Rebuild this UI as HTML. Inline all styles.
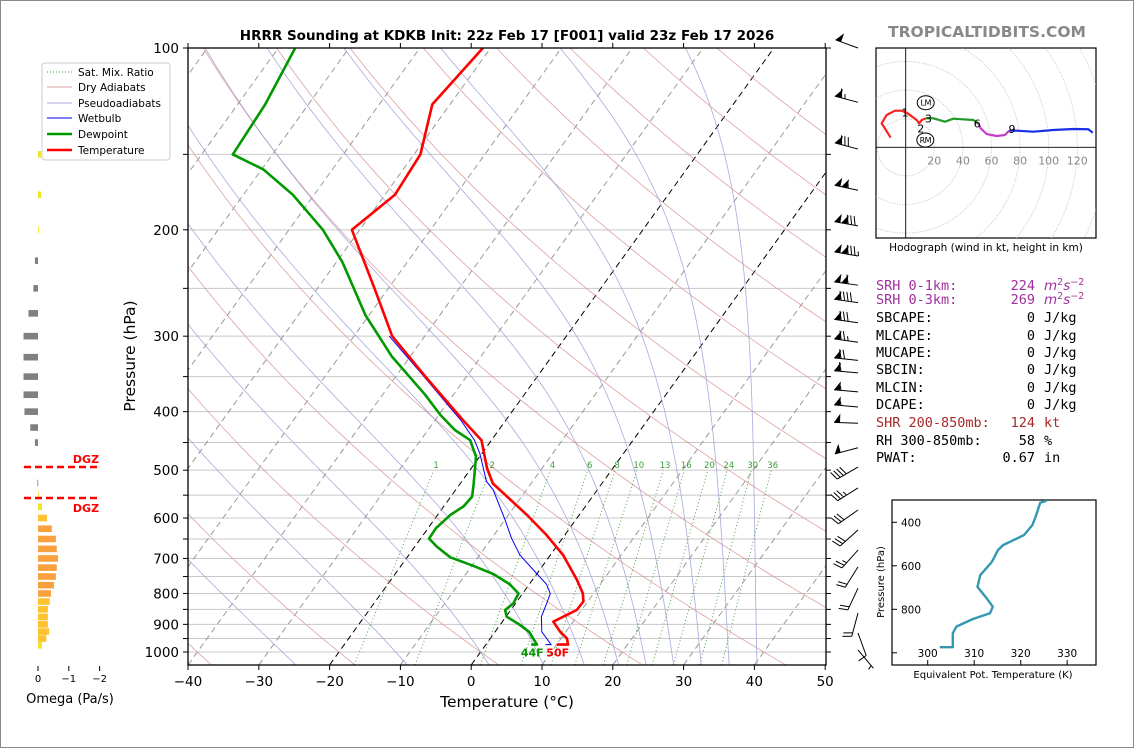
<!DOCTYPE html>
<html><head><meta charset="utf-8"><style>
html,body{margin:0;padding:0;background:#fff;overflow:hidden;}
svg{display:block;font-family:"DejaVu Sans","Liberation Sans",sans-serif;}
</style></head><body>
<svg id="fig" width="1134" height="748" viewBox="0 0 1134 748" xmlns="http://www.w3.org/2000/svg">
<rect x="0.5" y="0.5" width="1133" height="747" fill="#fff" stroke="#888"/>
<defs><clipPath id="mainclip"><rect x="188" y="48" width="638" height="617"/></clipPath>
<clipPath id="hodoclip"><rect x="876" y="48" width="220" height="190"/></clipPath>
<clipPath id="theclip"><rect x="892" y="500" width="204" height="165"/></clipPath></defs>
<text x="507" y="40" text-anchor="middle" font-size="13.5" font-weight="bold">HRRR Sounding at KDKB Init: 22z Feb 17 [F001] valid 23z Feb 17 2026</text>
<text x="987" y="37" text-anchor="middle" font-size="15.5" font-weight="bold" fill="#888">TROPICALTIDBITS.COM</text>
<g id="bg" clip-path="url(#mainclip)"></g>
<g id="prof" clip-path="url(#mainclip)"></g>
<g id="axes"></g>
<g id="omega"></g>
<g id="barbs"></g>
<g id="hodo"></g>
<g id="thetae"></g>
<g id="legend">
<rect x="42" y="63" width="128" height="97" rx="3" fill="#fff" stroke="#ccc"/>
<line x1="47" y1="72" x2="72" y2="72" stroke="#3a9a3a" stroke-dasharray="1,2"/>
<text x="78" y="76" font-size="10.5">Sat. Mix. Ratio</text>
<line x1="47" y1="87" x2="72" y2="87" stroke="#dca0a0"/>
<text x="78" y="91" font-size="10.5">Dry Adiabats</text>
<line x1="47" y1="103" x2="72" y2="103" stroke="#a8a8dc"/>
<text x="78" y="107" font-size="10.5">Pseudoadiabats</text>
<line x1="47" y1="118" x2="72" y2="118" stroke="#0000ee"/>
<text x="78" y="122" font-size="10.5">Wetbulb</text>
<line x1="47" y1="134" x2="72" y2="134" stroke="#009900" stroke-width="2.5"/>
<text x="78" y="138" font-size="10.5">Dewpoint</text>
<line x1="47" y1="150" x2="72" y2="150" stroke="#ff0000" stroke-width="2.5"/>
<text x="78" y="154" font-size="10.5">Temperature</text>
</g>
<g id="stats" font-family="'DejaVu Sans Mono','Liberation Mono',monospace" font-size="13.5"></g>
</svg>
<script>
// ===== DATA =====
const tempP = [972,972,949,926,891,874,852,825,800,760,691,640,593,526,496,446,413,399,350,300,251,200,175,150,124,100];
const tempT = [10.0,11.6,10.8,9.2,7.2,8.1,9.3,9.4,8.5,6.3,1.8,-2.6,-7.4,-15.4,-17.8,-21.4,-26.1,-28.1,-35.8,-44.6,-51.8,-61.1,-58.6,-59.1,-62.5,-61.1];
const dewP = [972,972,943,926,902,874,852,831,800,772,743,720,697,669,649,624,593,574,553,526,475,446,429,405,375,324,277,226,200,175,159,150,124,100];
const dewT = [6.4,7.2,5.7,4.8,2.8,0.1,-0.8,-0.3,-0.6,-2.8,-6.1,-9.8,-13.9,-16.9,-18.8,-18.9,-18.2,-17.2,-17.0,-18.1,-20.5,-23.0,-26.2,-29.8,-34.0,-42.6,-50.5,-59.2,-65.2,-73.0,-79.7,-85.6,-86.1,-87.6];
const wbP = [972,972,926,874,831,800,772,741,691,648,604,539,522,469,446,413,399,350,300];
const wbT = [8.4,9.2,6.6,5.0,4.4,3.9,2.4,-0.1,-4.3,-7.2,-10.0,-14.7,-16.5,-20.3,-22.4,-26.4,-28.4,-36.0,-45.0];
const pressureTicks = [100,200,300,400,500,600,700,800,900,1000];
const isobars = [100,150,200,250,300,350,400,450,500,550,600,650,700,750,800,850,900,950,1000];
const tempTicks = [-40,-30,-20,-10,0,10,20,30,40,50];
const mixRatios = [1,2,4,6,8,10,13,16,20,24,30,36];
const omegaP = [150,175,200,225,250,275,300,325,350,375,400,425,450,525,550,575,600,625,650,675,700,725,750,775,800,825,850,875,900,925,950,975];
const omegaV = [-0.1,-0.1,-0.03,0.1,0.15,0.31,0.47,0.47,0.47,0.47,0.44,0.25,0.1,0.02,-0.02,-0.13,-0.29,-0.45,-0.58,-0.61,-0.65,-0.61,-0.58,-0.52,-0.42,-0.38,-0.32,-0.32,-0.32,-0.36,-0.27,-0.13];
const omegaTicks = [0,-1,-2];
const dgzP = [494,556];
const barbP = [100,123,147,172,197,221,247,264,285,307,329,345,371,393,418,459,494,535,582,628,678,723,784,862,930,992];
const barbSpd = [50,65,80,105,130,135,110,90,80,75,70,60,55,55,50,50,40,35,30,30,25,20,20,20,10,5];
const barbDir = [290,285,285,282,280,280,278,278,278,278,276,275,275,275,272,255,240,238,235,228,222,212,205,195,160,140];
const hodoSeg = [
 {c:'#ff2020',u:[-10.5,-16.8,-13.3,-7.5,-2.8,0.7,7.7,9.3,11.2,14.2],v:[6.7,16.8,22.6,25.6,25.6,24.2,19.1,16.8,19.1,20.3]},
 {c:'#22992a',u:[14.2,19.3,27.5,33.3,47.3,50.8],v:[20.3,20.3,17.9,20.0,19.1,16.8]},
 {c:'#c040c8',u:[50.8,52.4,56.6,63.6,69.4,72.4],v:[16.8,13.3,9.3,7.9,8.6,11.6]},
 {c:'#1a2ee8',u:[72.4,77.6,89.2,103.2,117.2,127.7,130.8],v:[11.6,11.6,10.9,12.1,12.8,12.6,10.2]}];
const hodoLabelTxt = ['1','2','3','6','9'];
const hodoLabelU = [-0.5,10.5,15.9,50,74.3];
const hodoLabelV = [24.2,13.3,20.3,16.8,12.9];
const hodoRings = [20,40,60,80,100,120,140,160];
const thetaK = [302.6,305.4,305.4,306.2,309.8,313.4,314.0,312.7,310.7,311.3,313.8,315.1,316.2,320.7,322.5,323.2,324.2,325.6];
const thetaP = [974,974,910,879,844,818,788,750,697,643,582,528,505,459,413,375,310,300];
const thetaXTicks = [300,310,320,330];
const thetaYTicks = [400,600,800];

// ===== HELPERS =====
const NS='http://www.w3.org/2000/svg';
function mk(parent,tag,attrs,txt){const e=document.createElementNS(NS,tag);for(const k in attrs)e.setAttribute(k,attrs[k]);if(txt!==undefined)e.textContent=txt;parent.appendChild(e);return e;}
const yP=p=>652+604*Math.log10(p/1000);
const xT=(T,p)=>188+(T+40)*7.08+0.72*(665-yP(p));
const minus=s=>String(s).replace('-','\u2212');
function pathFrom(Ts,Ps){return Ts.map((t,i)=>(i?'L':'M')+xT(t,Ps[i]).toFixed(1)+','+yP(Ps[i]).toFixed(1)).join('');}
const bg=document.getElementById('bg');
const pressGrid=[];for(let p=1050;p>=100;p-=10)pressGrid.push(p);

// isobars
isobars.forEach(p=>{const l=mk(bg,'line',{x1:188,x2:826,y1:yP(p),y2:yP(p),stroke:'#c8c8c8','stroke-width':1});

});
// isotherms
for(let T=-140;T<=50;T+=10){const blk=(T===0||T===-20);
const l=mk(bg,'line',{x1:xT(T,1050),y1:yP(1050),x2:xT(T,100),y2:yP(100),stroke:blk?'#000':'#999','stroke-width':1,'stroke-dasharray':'6,4'});

}
// dry adiabats
for(let th=-40;th<=200;th+=20){const ps=[],ts=[];pressGrid.forEach(p=>{ps.push(p);ts.push((th+273.15)*Math.pow(p/1000,0.2857)-273.15);});
const l=mk(bg,'path',{d:pathFrom(ts,ps),fill:'none',stroke:'#d89090','stroke-width':0.8,opacity:0.85});

}
// moist adiabats
function es(Tc){return 6.112*Math.exp(17.67*Tc/(Tc+243.5));}
[-28,-12,0,8,14,19,23,27,31,35,39].forEach(t0=>{
 let T=t0+273.15;const ps=[1000],ts=[t0];
 const step=(p,T)=>{const e=es(T-273.15),rs=0.622*e/(p-e);return (287*T+2.5e6*rs)/(1004+2.5e6*2.5e6*rs*0.622/(287*T*T))/p;};
 let p=1000;while(p>100){const dp=-5;T+=step(p,T)*dp;p+=dp;ps.push(p);ts.push(T-273.15);}
 let T2=t0+273.15;p=1000;const ps2=[],ts2=[];while(p<1050){const dp=5;T2+=step(p,T2)*dp;p+=dp;ps2.push(p);ts2.push(T2-273.15);}
 const l=mk(bg,'path',{d:pathFrom(ts2.reverse().concat(ts),ps2.reverse().concat(ps)),fill:'none',stroke:'#9a9ad8','stroke-width':0.8,opacity:0.85});
 
 });
// mixing ratio lines
mixRatios.forEach(w=>{const td=p=>{const e=p*w/(622+w),a=Math.log(e/6.112);return 243.5*a/(17.67-a);};
 const ps=[1050,500],ts=ps.map(td);
 const l=mk(bg,'path',{d:pathFrom(ts,ps),fill:'none',stroke:'#3a9a3a','stroke-width':0.9,'stroke-dasharray':'1,2.5'});
 
 
 const t=mk(bg,'text',{x:xT(td(490),490),y:yP(490)+3,'text-anchor':'middle','font-size':8.5,fill:'#3a9a3a'},String(w));
 
 });

// profiles
const prof=document.getElementById('prof');
let e;
e=mk(prof,'path',{d:pathFrom(wbT,wbP),fill:'none',stroke:'#0000ff','stroke-width':1});


e=mk(prof,'path',{d:pathFrom(dewT,dewP),fill:'none',stroke:'#009900','stroke-width':2.6,'stroke-linejoin':'round'});


e=mk(prof,'path',{d:pathFrom(tempT,tempP),fill:'none',stroke:'#ff0000','stroke-width':2.6,'stroke-linejoin':'round'});


e=mk(prof,'text',{x:xT(dewT[0],dewP[0])+1,y:yP(dewP[0])+12,'text-anchor':'middle','font-size':11,'font-weight':'bold',fill:'#009900'},Math.round(dewT[0]*9/5+32)+'F');


e=mk(prof,'text',{x:xT(tempT[0],tempP[0])+1,y:yP(tempP[0])+12,'text-anchor':'middle','font-size':11,'font-weight':'bold',fill:'#ff0000'},Math.round(tempT[0]*9/5+32)+'F');



// axes
const ax=document.getElementById('axes');
e=mk(ax,'rect',{x:188,y:48,width:638,height:617,fill:'none',stroke:'#000','stroke-width':1.3});


isobars.forEach(p=>{mk(ax,'line',{x1:183,x2:188,y1:yP(p),y2:yP(p),stroke:'#000'});mk(ax,'line',{x1:826,x2:831,y1:yP(p),y2:yP(p),stroke:'#000'});});
pressureTicks.forEach(p=>{e=mk(ax,'text',{x:179,y:yP(p)+5,'text-anchor':'end','font-size':13.5},String(p));

});
tempTicks.forEach(T=>{const x=188+(T+40)*7.08;mk(ax,'line',{x1:x,x2:x,y1:665,y2:670,stroke:'#000'});mk(ax,'line',{x1:x,x2:x,y1:43,y2:48,stroke:'#000'});
e=mk(ax,'text',{x:x,y:686,'text-anchor':'middle','font-size':13.5},minus(T));

});
e=mk(ax,'text',{x:507,y:707,'text-anchor':'middle','font-size':15.5},'Temperature (\u00B0C)');


e=mk(ax,'text',{x:135,y:356,'text-anchor':'middle','font-size':15.5,transform:'rotate(-90 135 356)'},'Pressure (hPa)');



// omega panel
const om=document.getElementById('omega');const ox=v=>38-v*30.8;
omegaP.forEach((p,i)=>{const v=omegaV[i];const a=Math.abs(v);
 const col=v>0?'#808080':(a<0.2?'#f2e12a':(a<0.4?'#fdc22e':'#f9a03f'));
 const r=mk(om,'rect',{x:Math.min(ox(v),38),y:yP(p)-3.3,width:Math.max(Math.abs(ox(v)-38),0.8),height:6.6,fill:col});
 
 });
dgzP.forEach((p,i)=>{e=mk(om,'line',{x1:24,x2:98,y1:yP(p),y2:yP(p),stroke:'#ff0000','stroke-width':2.5,'stroke-dasharray':'7,4'});


e=mk(om,'text',{x:86,y:i?yP(p)+14:yP(p)-4,'text-anchor':'middle','font-size':11,'font-weight':'bold',fill:'#ff0000'},'DGZ');

});
omegaTicks.forEach(v=>{mk(om,'line',{x1:ox(v),x2:ox(v),y1:666,y2:671,stroke:'#000'});
e=mk(om,'text',{x:ox(v),y:682,'text-anchor':'middle','font-size':10},minus(v));

});
e=mk(om,'text',{x:70,y:703,'text-anchor':'middle','font-size':13},'Omega (Pa/s)');



// barbs
const bb=document.getElementById('barbs');
barbP.forEach((p,i)=>{const y=yP(p),tx=858,d=barbDir[i]*Math.PI/180;
 const ux=Math.sin(d),uy=-Math.cos(d),px=Math.cos(d),py=Math.sin(d);const L=24;
 const g=mk(bb,'g',{});
 
 
 const P=s=>[tx+ux*(L-s),y+uy*(L-s)];
 const tail=P(0);mk(g,'line',{x1:tx,y1:y,x2:tail[0],y2:tail[1],stroke:'#000','stroke-width':1});
 let spd=Math.round(barbSpd[i]/5)*5,s=0;
 while(spd>=50){const a=P(s),b=P(s+6);mk(g,'polygon',{points:`${a[0]},${a[1]} ${b[0]},${b[1]} ${b[0]+px*9},${b[1]+py*9}`,fill:'#000'});s+=7;spd-=50;}
 while(spd>=10){const a=P(s);mk(g,'line',{x1:a[0],y1:a[1],x2:a[0]+px*9+ux*2.5,y2:a[1]+py*9+uy*2.5,stroke:'#000'});s+=3.5;spd-=10;}
 if(spd>=5){if(s===0)s=3.5;const a=P(s);mk(g,'line',{x1:a[0],y1:a[1],x2:a[0]+px*4.5+ux*1.2,y2:a[1]+py*4.5+uy*1.2,stroke:'#000'});}
});

// hodograph
const hg=document.getElementById('hodo');const hx=u=>905.7+u*1.43,hy=v=>147.3-v*1.43;
e=mk(hg,'rect',{x:876,y:48,width:220,height:190,fill:'#fff',stroke:'#000','stroke-width':1.2});


const hc=mk(hg,'g',{'clip-path':'url(#hodoclip)'});
hodoRings.forEach(r=>{e=mk(hc,'circle',{cx:hx(0),cy:hy(0),r:r*1.43,fill:'none',stroke:'#bbb','stroke-dasharray':'1,1.5','stroke-width':0.9});

});
mk(hc,'line',{x1:876,x2:1096,y1:hy(0),y2:hy(0),stroke:'#000','stroke-width':0.9});
mk(hc,'line',{x1:hx(0),x2:hx(0),y1:48,y2:238,stroke:'#000','stroke-width':0.9});
hodoRings.slice(0,6).forEach(r=>{e=mk(hg,'text',{x:hx(r),y:hy(0)+17,'text-anchor':'middle','font-size':11,fill:'#888'},String(r));

});
hodoSeg.forEach(sg=>{e=mk(hc,'path',{d:sg.u.map((u,i)=>(i?'L':'M')+hx(u)+','+hy(sg.v[i])).join(''),fill:'none',stroke:sg.c,'stroke-width':2.2,'stroke-linejoin':'round'});

});
hodoLabelTxt.forEach((t,i)=>{e=mk(hg,'text',{x:hx(hodoLabelU[i]),y:hy(hodoLabelV[i])+4,'text-anchor':'middle','font-size':11},t);

});
[['LM',925.7,102.7],['RM',925.3,140]].forEach(m=>{e=mk(hg,'ellipse',{cx:m[1],cy:m[2],rx:8.5,ry:7,fill:'#fff',stroke:'#000','stroke-width':1});


mk(hg,'text',{x:m[1],y:m[2]+3,'text-anchor':'middle','font-size':8,'letter-spacing':'-0.5'},m[0]);});
e=mk(hg,'text',{x:986,y:251,'text-anchor':'middle','font-size':10.5},'Hodograph (wind in kt, height in km)');



// stats
const st=document.getElementById('stats');
const rows=[['SRH 0-1km:','224','srh','#a030a0',290],['SRH 0-3km:','269','srh','#a030a0',304],['SBCAPE:','0','J/kg','#000',322],['MLCAPE:','0','J/kg','#000',340],['MUCAPE:','0','J/kg','#000',357],['SBCIN:','0','J/kg','#000',374],['MLCIN:','0','J/kg','#000',392],['DCAPE:','0','J/kg','#000',409],['SHR 200-850mb:','124','kt','#a52a2a',427],['RH 300-850mb:','58','%','#000',445],['PWAT:','0.67','in','#000',462]];
rows.forEach(r=>{const g=mk(st,'g',{fill:r[3]});


mk(g,'text',{x:876,y:r[4]},r[0]);mk(g,'text',{x:1035,y:r[4],'text-anchor':'end'},r[1]);
if(r[2]==='srh'){const t=mk(g,'text',{x:1044,y:r[4],'font-family':'DejaVu Sans, sans-serif','font-style':'italic','font-size':13.5});
 t.innerHTML='m<tspan dy="-5" font-size="9.5" font-style="normal">2</tspan><tspan dy="5">s</tspan><tspan dy="-5" font-size="9.5" font-style="normal">\u22122</tspan>';}
else mk(g,'text',{x:1044,y:r[4]},r[2]);});

// theta-e panel
const te=document.getElementById('thetae');const tx2=k=>927.7+(k-300)*4.65,ty2=p=>522.3+(p-400)*0.2175;
e=mk(te,'rect',{x:892,y:500,width:204,height:165,fill:'#fff',stroke:'#000','stroke-width':1.2});


const tcg=mk(te,'g',{'clip-path':'url(#theclip)'});
e=mk(tcg,'path',{d:thetaK.map((k,i)=>(i?'L':'M')+tx2(k)+','+ty2(thetaP[i])).join(''),fill:'none',stroke:'#3399b0','stroke-width':2.4,'stroke-linejoin':'round'});


thetaXTicks.forEach(k=>{mk(te,'line',{x1:tx2(k),x2:tx2(k),y1:665,y2:660,stroke:'#000'});
e=mk(te,'text',{x:tx2(k),y:657,'text-anchor':'middle','font-size':10.5},String(k));

});
thetaYTicks.concat([1000]).forEach(p=>{mk(te,'line',{x1:892,x2:897,y1:ty2(p),y2:ty2(p),stroke:'#000'});});
thetaYTicks.forEach(p=>{e=mk(te,'text',{x:901,y:ty2(p)+4,'font-size':10.5},String(p));

});
e=mk(te,'text',{x:993,y:678,'text-anchor':'middle','font-size':10},'Equivalent Pot. Temperature (K)');


e=mk(te,'text',{x:884,y:582,'text-anchor':'middle','font-size':10,transform:'rotate(-90 884 582)'},'Pressure (hPa)');


</script>
</body></html>
